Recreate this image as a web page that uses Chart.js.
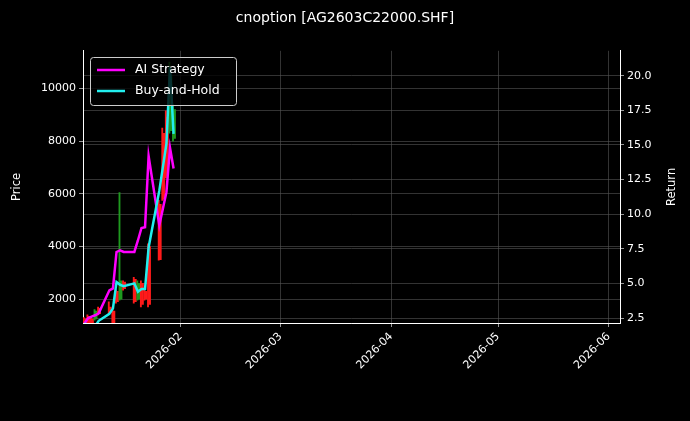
<!DOCTYPE html>
<html><head><meta charset="utf-8">
<script src="https://cdn.jsdelivr.net/npm/chart.js@4"></script>
<style>html,body{margin:0;background:#000;}#w{width:690px;height:421px;}</style>
</head><body><div id="w"><canvas id="c"></canvas></div>
<script>
// day-of-year index (Jan 1 = 0)
const tradeDays = [4,5,6,7,8,11,12,13,14,15,18,19,20,21,22,25,26,27,28,29];
const aiStrategy = [2.1,2.48,2.6,2.7,2.84,4.5,4.64,7.27,7.39,7.27,7.27,8.1,9.0,9.05,14.2,9.19,10.39,11.59,14.8,13.3];
const buyHold = [2.12,1.95,1.78,1.9,2.3,2.8,3.2,5.1,4.9,4.8,5.0,4.4,4.6,4.6,7.6,11.7,13.4,15.1,20.6,15.8];
const priceOpen  = [1250,1350,1250,1250,1650,1700,1550,2300,2000,2650,2750,2000,2600,2300,4000,5600,8300,8900,8400,8100];
const priceClose = [1000,1050,950,1550,1450,1500,900,1900,2700,2400,1900,2600,1800,2000,1800,3500,5800,6700,10500,9200];
const priceHigh  = [1300,1400,1300,1600,1700,1900,1600,2350,6050,2700,2830,2700,2700,2350,4100,5750,8500,9150,11000,9400];
const priceLow   = [900,1000,900,1200,1400,1450,830,1850,1960,2340,1850,1960,1700,1960,1700,3480,5750,6600,8300,8000];
const xTickDays = [31,59,90,120,151];
const xTickLabels = ['2026-02','2026-03','2026-04','2026-05','2026-06'];
const priceTicks = [2000,4000,6000,8000,10000];
const returnTicks = [2.5,5,7.5,10,12.5,15,17.5,20];

const up = priceClose.map((c,i)=>c>=priceOpen[i]);
const colors = up.map(u=>u?'#1f9a1f':'#ff1a1a');
const wick = tradeDays.map((d,i)=>({x:d,y:[priceLow[i],priceHigh[i]]}));
const body = tradeDays.map((d,i)=>({x:d,y:[Math.min(priceOpen[i],priceClose[i]),Math.max(priceOpen[i],priceClose[i])]}));

const legendPlugin = {id:'lg',afterDraw(ch){
  const c=ch.ctx;c.save();
  c.fillStyle='rgba(0,0,0,0.8)';c.strokeStyle='#cccccc';c.lineWidth=1;
  const x=90,y=57,w=146,h=48,r=3;
  c.beginPath();c.roundRect(x+0.5,y+0.5,w,h,r);c.fill();c.stroke();
  const items=[['AI Strategy','#ff00ff'],['Buy-and-Hold','#22eeee']];
  c.font='12.5px "DejaVu Sans"';c.textBaseline='middle';
  items.forEach((it,i)=>{const yy=y+13+i*21;
    c.strokeStyle=it[1];c.lineWidth=2.5;c.beginPath();c.moveTo(x+7,yy);c.lineTo(x+35,yy);c.stroke();
    c.fillStyle='#fff';c.fillText(it[0],x+45,yy);});
  // axis titles
  const a=ch.chartArea, cy=(a.top+a.bottom)/2;
  c.font='11.5px "DejaVu Sans"';c.textAlign='center';c.fillStyle='#fff';
  [['Price',17],['Return',672]].forEach(t=>{c.save();c.translate(t[1],cy);c.rotate(-Math.PI/2);c.fillText(t[0],0,0);c.restore();});
  c.restore();}};

const grid={color:'#555',borderDash:[3,3],lineWidth:0.6,drawTicks:true,tickColor:'#fff',tickLength:4,offset:false};
new Chart(document.getElementById('c'),{
  data:{datasets:[
    {type:'bar',data:wick,backgroundColor:colors,barThickness:1.2,yAxisID:'y',order:3},
    {type:'bar',data:body,backgroundColor:colors,barThickness:2,yAxisID:'y',order:3},
    {type:'line',label:'AI Strategy',data:tradeDays.map((d,i)=>({x:d,y:aiStrategy[i]})),borderColor:'#ff00ff',borderWidth:2.5,pointRadius:0,yAxisID:'y1',order:1},
    {type:'line',label:'Buy-and-Hold',data:tradeDays.map((d,i)=>({x:d,y:buyHold[i]})),borderColor:'#22eeee',borderWidth:2.5,pointRadius:0,yAxisID:'y1',order:0}
  ]},
  options:{responsive:true,maintainAspectRatio:false,animation:false,
    layout:{padding:0},
    plugins:{legend:{display:false},tooltip:{enabled:false},
      title:{display:true,text:'cnoption [AG2603C22000.SHF]',color:'#fff',font:{family:'DejaVu Sans',size:14,weight:'normal'},padding:{top:10,bottom:24}}},
    scales:{
      x:{type:'linear',min:3.6,max:154.2,offset:false,
        afterBuildTicks(s){s.ticks=xTickDays.map(v=>({value:v}));},
        afterFit(s){s.height=98;},
        ticks:{color:'#fff',font:{family:'DejaVu Sans',size:11},minRotation:45,maxRotation:45,autoSkip:false,
          callback:(v)=>{const i=xTickDays.indexOf(v);return i>=0?xTickLabels[i]:'';}},
        grid:grid,border:{color:'#fff'}},
      y:{position:'left',min:1094,max:11430,
        afterBuildTicks(s){s.ticks=priceTicks.map(v=>({value:v}));},
        afterFit(s){s.width=83;},
        ticks:{color:'#fff',font:{family:'DejaVu Sans',size:11},callback:v=>String(v)},
        grid:grid,border:{color:'#fff'}},
      y1:{position:'right',min:2.14,max:21.8,
        afterBuildTicks(s){s.ticks=returnTicks.map(v=>({value:v}));},
        afterFit(s){s.width=70;},
        ticks:{color:'#fff',font:{family:'DejaVu Sans',size:11},callback:v=>v.toFixed(1)},
        grid:grid,border:{color:'#fff'}}
    }}
  ,plugins:[legendPlugin,{id:'bg',beforeDraw(ch){const c=ch.ctx;c.save();c.fillStyle='#000';c.fillRect(0,0,ch.width,ch.height);c.restore();}}]
});
</script></body></html>
